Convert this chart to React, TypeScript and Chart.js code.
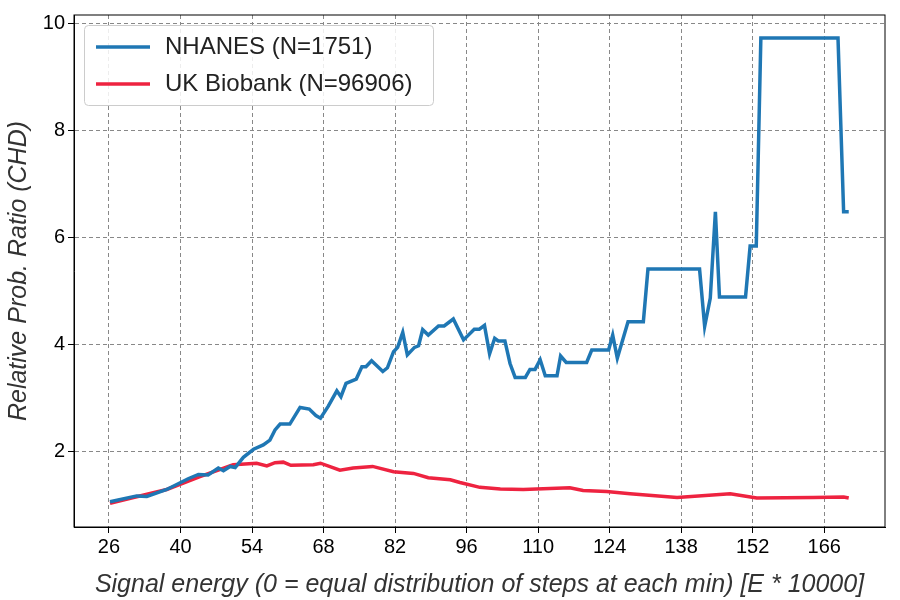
import { useEffect, useRef } from "react";
import { Chart, registerables } from "chart.js";

Chart.register(...registerables);

const nhanesX = [26.2, 31.4, 33.4, 37.3, 41.5, 43.5, 45.4, 47.4, 48.4, 49.7, 50.7, 52.3, 54.3, 56.2, 57.5, 58.5, 59.5, 61.4, 63.4, 65.2, 66.5, 67.4, 68.9, 70.6, 71.4, 72.4, 74.4, 75.5, 76.3, 77.4, 79.6, 80.5, 81.7, 82.5, 83.5, 84.4, 85.8, 86.6, 87.4, 88.5, 90.5, 91.6, 93.4, 95.4, 97.5, 98.5, 99.5, 100.5, 101.5, 102.2, 103.5, 104.5, 105.5, 107.5, 108.4, 109.4, 110.4, 111.4, 113.7, 114.4, 115.5, 119.5, 120.5, 123.8, 124.6, 125.5, 127.6, 130.6, 131.5, 141.6, 142.6, 143.7, 144.7, 145.5, 150.6, 151.5, 152.7, 153.6, 168.7, 169.8, 170.8];
const nhanesY = [1.07, 1.18, 1.17, 1.3, 1.5, 1.58, 1.57, 1.7, 1.65, 1.73, 1.71, 1.9, 2.05, 2.13, 2.22, 2.41, 2.52, 2.52, 2.83, 2.8, 2.68, 2.63, 2.85, 3.14, 3.03, 3.28, 3.36, 3.59, 3.59, 3.7, 3.5, 3.57, 3.87, 3.95, 4.23, 3.81, 3.95, 3.98, 4.28, 4.18, 4.35, 4.35, 4.48, 4.09, 4.29, 4.29, 4.36, 3.83, 4.12, 4.07, 4.07, 3.65, 3.39, 3.39, 3.54, 3.54, 3.72, 3.42, 3.42, 3.79, 3.67, 3.67, 3.9, 3.9, 4.18, 3.75, 4.43, 4.43, 5.41, 5.41, 4.34, 4.87, 6.48, 4.89, 4.89, 5.84, 5.84, 9.72, 9.72, 6.48, 6.48];
const ukbX = [26.2, 30.8, 37.3, 43.8, 50.3, 54.9, 56.9, 58.5, 60.1, 61.6, 66.0, 67.4, 71.2, 73.8, 77.6, 81.7, 85.6, 88.5, 92.8, 94.7, 98.6, 102.6, 107.1, 116.2, 118.8, 123.4, 128.0, 137.2, 147.6, 152.8, 163.9, 169.8, 170.8];
const ukbY = [1.04, 1.15, 1.3, 1.54, 1.76, 1.79, 1.74, 1.8, 1.81, 1.75, 1.76, 1.79, 1.66, 1.7, 1.73, 1.63, 1.6, 1.52, 1.48, 1.43, 1.34, 1.31, 1.3, 1.33, 1.28, 1.26, 1.22, 1.15, 1.22, 1.14, 1.15, 1.16, 1.14];
const xTicks = [26, 40, 54, 68, 82, 96, 110, 124, 138, 152, 166];
const yTicks = [2, 4, 6, 8, 10];
const seriesNames = ["NHANES (N=1751)", "UK Biobank (N=96906)"];
const seriesColors = ["#1f77b4", "#ee2340"];

const FONT = "'Liberation Sans', Arial, sans-serif";

// legend box in the top-left corner plus the full black frame
const extras = {
  id: "extras",
  afterDraw(chart: any) {
    const ctx = chart.ctx;
    const a = chart.chartArea;
    ctx.save();
    ctx.strokeStyle = "#000";
    ctx.lineWidth = 1;
    ctx.strokeRect(a.left, a.top, a.right - a.left, a.bottom - a.top);
    ctx.fillStyle = "rgba(255,255,255,0.85)";
    ctx.strokeStyle = "#cccccc";
    ctx.beginPath();
    ctx.roundRect(84.5, 25.5, 349, 80, 4);
    ctx.fill();
    ctx.stroke();
    ctx.font = `24px ${FONT}`;
    ctx.textBaseline = "middle";
    seriesNames.forEach((name, i) => {
      const y = 47 + i * 37;
      ctx.strokeStyle = seriesColors[i];
      ctx.lineWidth = 3.5;
      ctx.beginPath();
      ctx.moveTo(96, y);
      ctx.lineTo(150, y);
      ctx.stroke();
      ctx.fillStyle = "#222";
      ctx.fillText(name, 165, y);
    });
    ctx.restore();
  },
};

export default function App() {
  const canvasRef = useRef<HTMLCanvasElement>(null);

  useEffect(() => {
    if (!canvasRef.current) return;
    const toPts = (xs: number[], ys: number[]) => xs.map((x, i) => ({ x, y: ys[i] }));
    const chart = new Chart(canvasRef.current, {
      type: "line",
      data: {
        datasets: [
          { label: seriesNames[0], data: toPts(nhanesX, nhanesY), borderColor: seriesColors[0], borderWidth: 3.5, pointRadius: 0, tension: 0 },
          { label: seriesNames[1], data: toPts(ukbX, ukbY), borderColor: seriesColors[1], borderWidth: 3.5, pointRadius: 0, tension: 0 },
        ],
      },
      plugins: [extras],
      options: {
        animation: false,
        responsive: false,
        layout: { padding: { top: 15, right: 15, left: 0, bottom: 0 } },
        plugins: { legend: { display: false }, tooltip: { enabled: false } },
        scales: {
          x: {
            type: "linear",
            min: 19.15,
            max: 177.9,
            afterBuildTicks: (axis: any) => { axis.ticks = xTicks.map((v) => ({ value: v })); },
            afterFit: (axis: any) => { axis.height = 73; },
            grid: { color: "#888", tickLength: 6, tickColor: "#000" },
            border: { color: "#000", width: 1, dash: [4, 3] },
            ticks: { color: "#000", font: { size: 20, family: FONT }, maxRotation: 0, padding: 2 },
            title: { display: true, text: "Signal energy (0 = equal distribution of steps at each min) [E * 10000]", color: "#333", font: { size: 25, style: "italic", family: FONT }, padding: { top: 0, bottom: 0 } },
          },
          y: {
            min: 0.6,
            max: 10.15,
            afterBuildTicks: (axis: any) => { axis.ticks = yTicks.map((v) => ({ value: v })); },
            afterFit: (axis: any) => { axis.width = 74; },
            grid: { color: "#888", tickLength: 6, tickColor: "#000" },
            border: { color: "#000", width: 1, dash: [4, 3] },
            ticks: { color: "#000", font: { size: 20, family: FONT }, padding: 3 },
            title: { display: true, text: "Relative Prob. Ratio (CHD)", color: "#333", font: { size: 25, style: "italic", family: FONT }, padding: { bottom: 4 } },
          },
        },
      },
    });
    return () => chart.destroy();
  }, []);

  return (
    <div style={{ position: "absolute", left: 0, top: 0, width: 900, height: 600, background: "#fff" }}>
      <canvas ref={canvasRef} width={900} height={600} style={{ width: 900, height: 600 }} />
    </div>
  );
}
